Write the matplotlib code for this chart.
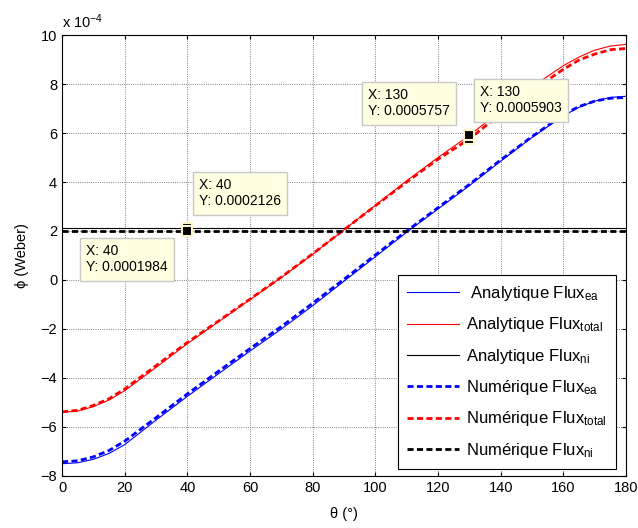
import numpy as np
import matplotlib
matplotlib.use('Agg')
import matplotlib.pyplot as plt

plt.rcParams['font.family'] = ['Liberation Sans', 'DejaVu Sans']
plt.rcParams['mathtext.fontset'] = 'custom'
plt.rcParams['mathtext.rm'] = 'Liberation Sans'
plt.rcParams['mathtext.it'] = 'Liberation Sans:italic'
plt.rcParams['mathtext.bf'] = 'Liberation Sans:bold'

# flux values in units of 1e-4 Weber
theta = [0, 5, 10, 15, 20, 30, 40, 50, 60, 70, 80, 90, 100, 110, 120,
         130, 140, 150, 160, 165, 170, 175, 180]
ea_ana = [-7.50, -7.46, -7.32, -7.08, -6.72, -5.72, -4.75, -3.82, -2.90, -2.00,
          -1.05, -0.05, 0.95, 1.95, 2.90, 3.85, 4.85, 5.82, 6.70, 7.05, 7.30, 7.45, 7.50]
tot_ana = [-5.40, -5.35, -5.17, -4.90, -4.52, -3.57, -2.60, -1.70, -0.80, 0.10,
           1.05, 2.05, 3.05, 4.05, 5.00, 5.903, 6.90, 7.88, 8.75, 9.10, 9.38, 9.55, 9.62]
ni_ana = [2.126] * len(theta)
ea_num = [-7.42, -7.38, -7.22, -6.96, -6.58, -5.62, -4.65, -3.72, -2.80, -1.90,
          -0.95, 0.03, 1.02, 2.00, 2.95, 3.90, 4.90, 5.85, 6.75, 7.08, 7.30, 7.42, 7.45]
tot_num = [-5.38, -5.32, -5.12, -4.85, -4.45, -3.50, -2.55, -1.67, -0.78, 0.12,
           1.07, 2.05, 3.03, 4.00, 4.93, 5.757, 6.78, 7.72, 8.60, 8.98, 9.22, 9.40, 9.45]
ni_num = [1.984] * len(theta)

labels = [r' Analytique Flux$_{\mathrm{ea}}$', r'Analytique Flux$_{\mathrm{total}}$',
          r'Analytique Flux$_{\mathrm{ni}}$', r'Numérique Flux$_{\mathrm{ea}}$',
          r'Numérique Flux$_{\mathrm{total}}$', r'Numérique Flux$_{\mathrm{ni}}$']

# data tips: point and text top-left (data coords)
tip_x = [40, 40, 130, 130]
tip_y = [2.126, 1.984, 5.757, 5.903]
tip_txt = [(43.7, 4.16), (7.6, 1.46), (97.7, 7.83), (133.4, 7.95)]

fig = plt.figure(figsize=(6.38, 5.28), dpi=100)
ax = fig.add_axes([0.0972, 0.0985, 0.884, 0.8352])

dash = (0, (2.2, 1.2))
ax.plot(theta, ea_ana, color='blue', lw=0.8, label=labels[0])
ax.plot(theta, tot_ana, color='red', lw=0.8, label=labels[1])
ax.plot(theta, ni_ana, color='black', lw=0.8, label=labels[2])
ax.plot(theta, ea_num, color='blue', lw=2, ls=dash, label=labels[3])
ax.plot(theta, tot_num, color='red', lw=2, ls=dash, label=labels[4])
ax.plot(theta, ni_num, color='black', lw=2, ls=dash, label=labels[5])

# datatip markers
for i in [0, 1, 2, 3]:
    ax.plot(tip_x[i], tip_y[i], marker='s', ms=7.5, mfc='black',
            mec='#fbf7c8', mew=1.5, zorder=5)

for i in range(4):
    ax.text(tip_txt[i][0], tip_txt[i][1], 'X: %d\nY: %.7f' % (tip_x[i], tip_y[i] * 1e-4),
            fontsize=10, ha='left', va='top', zorder=6,
            bbox=dict(boxstyle='square,pad=0.45', fc='#ffffe1', ec='#c8c8c8', lw=1))

ax.set_xlim(0, 180)
ax.set_ylim(-8, 10)
ax.set_xticks(np.arange(0, 181, 20))
ax.set_yticks(np.arange(-8, 11, 2))
ax.tick_params(direction='in', top=True, right=True, length=3, labelsize=10.5, width=0.8)
ax.grid(True, color='0.35', ls=':', lw=0.6)
for s in ax.spines.values():
    s.set_linewidth(0.8)

ax.set_xlabel('θ (°)', fontsize=10.5, labelpad=9)
ax.set_ylabel('ϕ (Weber)', fontsize=10.5, labelpad=8)
ax.annotate(r'x 10$^{-4}$', xy=(0, 1), xycoords='axes fraction', xytext=(0, 3),
            textcoords='offset points', fontsize=10.5, ha='left', va='bottom')

leg = ax.legend(loc='lower left', bbox_to_anchor=(0.596, 0.016),
                fontsize=12, frameon=True, fancybox=False, framealpha=1,
                edgecolor='black', handlelength=3.1, handletextpad=0.4,
                labelspacing=0.74, borderpad=0.55, borderaxespad=0)
leg.get_frame().set_linewidth(0.8)

fig.savefig('out.png', dpi=100)
